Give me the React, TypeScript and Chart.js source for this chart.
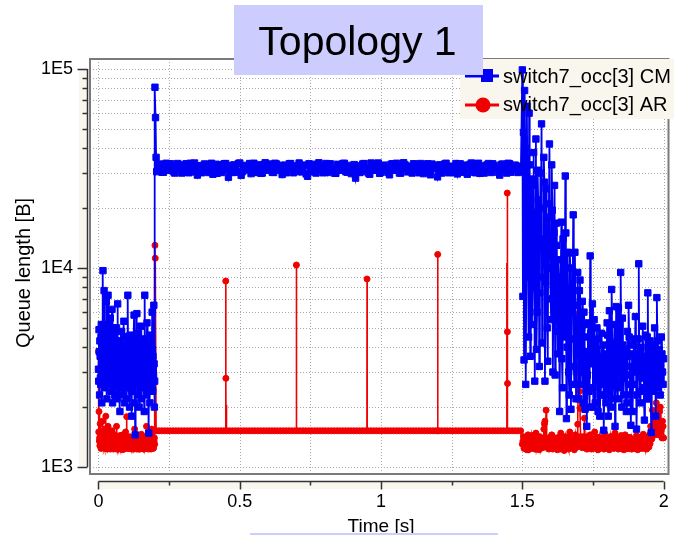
import { useEffect, useRef } from 'react';
import { Chart, registerables } from 'chart.js';
Chart.register(...registerables);

const W = 674;
const H = 535;
const FONT = '"Liberation Sans", Arial, Helvetica, sans-serif';
const BLUE = '#0000f5';
const RED = '#f00000';
const GRID = '#a8a8a8';
const LEGEND_BG = '#f9f6ee';
const TITLE_BG = '#ccccff';

const TITLE = 'Topology 1';
const X_TITLE = 'Time [s]';
const Y_TITLE = 'Queue length [B]';
const SERIES_NAMES = ['switch7_occ[3] CM', 'switch7_occ[3] AR'];

const X_TICKS = [0, 0.25, 0.5, 0.75, 1, 1.25, 1.5, 1.75, 2];
const X_TICK_LABELS = ['0', '', '0.5', '', '1', '', '1.5', '', '2'];
const Y_TICKS = [
  1000, 2000, 3000, 4000, 5000, 6000, 7000, 8000, 9000,
  10000, 20000, 30000, 40000, 50000, 60000, 70000, 80000, 90000, 100000,
];
const Y_TICK_LABELS = ['1E3', '', '', '', '', '', '', '', '', '1E4', '', '', '', '', '', '', '', '', '1E5'];

const X_MIN = -0.0299;
const X_MAX = 2.0172;
const Y_MIN = 922;
const Y_MAX = 112300;

// ---------- CM series (blue) ----------
// samples at 0.000, 0.002, ... 0.198
const cmLeftA = [
  3100, 4900, 2300, 3600, 2600, 5200, 2100, 3400, 9700, 3000,
  7700, 2500, 4100, 2900, 6800, 2200, 3700, 7300, 2600, 4400,
  3000, 5600, 2400, 3300, 6200, 2100, 3900, 2700, 4700, 2300,
  3500, 2800, 5000, 2200, 6600, 3100, 2500, 4300, 1900, 3600,
  2700, 4800, 2300, 3900, 3000, 5400, 2100, 3200, 2600, 4500,
  2200, 3700, 7300, 2500, 3400, 2000, 4600, 2800, 3500, 1800,
  4200, 2400, 3100, 5800, 2100, 1450, 3800, 2600, 5900, 2300,
  3300, 4700, 2000, 3600, 2700, 5100, 2200, 4000, 3000, 2500,
  4400, 1900, 7300, 2800, 3500, 2300, 5300, 2600, 3200, 1480,
  3900, 2100, 4600, 2700, 3400, 6000, 2400, 3100, 6500, 2000,
];
// samples at 0.001, 0.003, ... 0.199
const cmLeftB = [
  2700, 3800, 4300, 2800, 4500, 3300, 3000, 4100, 3800, 5200,
  3300, 4400, 2700, 5100, 3200, 4000, 2800, 3600, 5200, 3000,
  4300, 2900, 3800, 4600, 2700, 3500, 3000, 5000, 2600, 3900,
  3100, 4300, 2700, 3800, 3200, 4200, 3400, 2900, 4100, 2600,
  4000, 3100, 3500, 2600, 4500, 2900, 3700, 2500, 3800, 3000,
  4100, 2800, 3300, 4200, 2600, 3900, 3200, 4300, 2400, 3600,
  3000, 3800, 4400, 2700, 3600, 3100, 2900, 4000, 3400, 3800,
  2800, 3500, 4300, 2600, 4100, 3000, 3600, 2800, 4200, 3300,
  2900, 4000, 3500, 2500, 4100, 3800, 2900, 4200, 2600, 3100,
  2800, 4300, 3200, 3700, 2500, 3900, 3600, 2900, 3300, 2700,
];
const cmJumpTimes = [0.2, 0.202, 0.204, 0.206];
const cmJumpValues = [81000, 57000, 36000, 30500];

// samples at 0.21, 0.22, ... 1.49
const cmPlateauA = [
  31500, 33300, 30300, 33600, 31000, 32900, 30000, 33500, 31800, 30400,
  33400, 30100, 31700, 33700, 29300, 32700, 31100, 33200, 30200, 33600,
  31200, 29900, 33100, 31400, 33500, 28600, 31900, 33000, 30300, 33700,
  30500, 32800, 31600, 29800, 33600, 31300, 32500, 30000, 33800, 31500,
  32600, 30200, 33300, 31000, 29500, 32900, 31700, 33500, 30100, 31900,
  33700, 30400, 32700, 28900, 31500, 33200, 30000, 33800, 31200, 32500,
  30200, 33400, 31400, 29900, 33000, 31000, 33600, 30300, 32800, 31700,
  28300, 32600, 30500, 33500, 31300, 29600, 33100, 31100, 33700, 30300,
  32900, 31800, 29400, 33400, 31000, 32700, 30000, 33800, 31600, 32500,
  30000, 33200, 31200, 33500, 29800, 32800, 30400, 33300, 31500, 28700,
  33000, 31100, 33600, 30100, 32500, 31700, 29700, 33400, 31300, 32900,
  30300, 33700, 31000, 33100, 29900, 32600, 31400, 33500, 30200, 32800,
  31800, 29300, 33300, 31200, 33600, 30300, 32700, 31500, 30500,
];
// samples at 0.215, 0.225, ... 1.495
const cmPlateauB = [
  31900, 30300, 33000, 31300, 33400, 30500, 31800, 33100, 30000, 32700,
  31500, 33600, 30400, 32500, 31600, 30100, 33300, 31200, 32800, 29600,
  33200, 31400, 30200, 33400, 31100, 32800, 30200, 31700, 33500, 29200,
  32500, 31100, 33500, 31700, 30200, 33000, 29900, 33100, 31000, 33300,
  30300, 33600, 31400, 32800, 31900, 30100, 33400, 31200, 32600, 30500,
  31600, 32900, 29700, 33400, 30400, 31300, 33100, 31500, 30100, 33500,
  32700, 31100, 30000, 33200, 31800, 33500, 30500, 31900, 29800, 33100,
  31500, 30200, 33300, 31700, 30000, 33700, 31000, 32900, 29900, 32500,
  31200, 30200, 33200, 31400, 33600, 30000, 31900, 33000, 30400, 31300,
  33400, 31500, 30100, 32700, 31600, 33400, 29400, 31800, 32900, 31000,
  30000, 33300, 31600, 31900, 30200, 33500, 32700, 30300, 31800, 29600,
  33200, 31300, 30100, 33600, 31800, 30000, 33000, 31100, 33400, 31600,
  30300, 33100, 31100, 30000, 33400, 31500, 32900, 30200, 32500,
];

// samples at 1.500, 1.504, ... 2.000
const cmRightA = [
  99000, 48000, 78000, 2600, 65000, 12000, 60000, 3600, 28000, 8000,
  38000, 2700, 44500, 6000, 22000, 3200, 30000, 53000, 9000, 36000,
  2700, 25000, 5000, 18000, 42000, 7000, 33000, 3000, 15000, 2900,
  16800, 6000, 11000, 1900, 9000, 3500, 14000, 4500, 29000, 1750,
  12000, 3000, 11900, 1950, 8000, 18500, 2600, 6500, 3800, 9500,
  2200, 8700, 3000, 6800, 2100, 5200, 2800, 1600, 4500, 2400,
  11500, 3300, 6600, 2000, 4200, 2700, 5000, 1900, 3600, 2300,
  4700, 2900, 1530, 3400, 2100, 5300, 1800, 6100, 2600, 7800,
  2200, 3900, 1600, 6400, 2500, 6300, 3100, 9500, 2000, 4100,
  2800, 3600, 1900, 4800, 6500, 2300, 1620, 3700, 2600, 4400,
  5700, 1550, 3300, 10500, 2400, 4000, 2800, 3500, 1720, 4600,
  2200, 7500, 3000, 4300, 1490, 3800, 2500, 5000, 1800, 7100,
  2700, 3900, 2300, 4500, 3000, 3500,
];
// samples at 1.502, 1.506, ... 1.998
const cmRightB = [
  7200, 3450, 40000, 9000, 25000, 4500, 33000, 15000, 5200, 26000,
  11000, 19000, 3900, 31000, 12500, 7500, 20000, 4200, 14000, 27000,
  8500, 16000, 3400, 21000, 10000, 5500, 19500, 8200, 26000, 4800,
  13000, 3700, 8800, 5400, 17000, 2500, 9800, 6000, 15000, 4000,
  7200, 2300, 10000, 4400, 6800, 3200, 12000, 2200, 5600, 4100,
  7700, 2600, 5000, 3300, 6000, 1950, 3800, 2900, 5300, 2000,
  4700, 3600, 2500, 5500, 2100, 3900, 3000, 4400, 1800, 3500,
  2600, 4100, 2300, 3700, 2900, 4600, 2400, 3300, 2000, 4200,
  3000, 5200, 2700, 3500, 2200, 4000, 2600, 3400, 5600, 2300,
  3900, 2900, 2100, 3600, 4500, 2600, 3200, 1900, 4100, 3000,
  3700, 2300, 4400, 3100, 2100, 3600, 5100, 2500, 3300, 2800,
  4500, 2200, 3600, 2600, 4100, 3100, 2400, 3900, 2900, 4300,
  2500, 3300, 2800, 3700, 2600,
];

// ---------- AR series (red) ----------
// samples at 0.000, 0.002, ... 0.198
const arLeftA = [
  3800, 1900, 1400, 1650, 1300, 1500, 1250, 1700, 1350, 1450,
  1280, 1550, 1320, 1800, 1240, 1420, 1300, 1600, 1260, 1380,
  1480, 1230, 1350, 1280, 1520, 1250, 1400, 1310, 1270, 1450,
  1240, 1330, 1600, 1260, 1300, 1230, 1420, 1280, 1350, 1250,
  1380, 1270, 1220, 1450, 1300, 1260, 1340, 1240, 1500, 1290,
  1790, 1250, 1360, 1280, 1240, 1420, 1300, 1260, 1330, 1230,
  1400, 1270, 1310, 1250, 1550, 1240, 1350, 1280, 1230, 1440,
  1290, 1250, 1380, 1230, 1330, 1270, 1460, 1240, 1300, 1260,
  1350, 1230, 1420, 1280, 1250, 1600, 1240, 1310, 1270, 1480,
  1250, 1380, 1290, 1230, 1550, 1260, 1330, 1240, 1290, 1400,
];
// samples at 0.001, 0.003, ... 0.199
const arLeftB = [
  1500, 1350, 1280, 1420, 1240, 1380, 1300, 1260, 1430, 1250,
  1330, 1240, 1400, 1270, 1350, 1230, 1460, 1280, 1320, 1240,
  1300, 1390, 1250, 1410, 1270, 1340, 1230, 1380, 1290, 1250,
  1360, 1270, 1240, 1410, 1230, 1350, 1290, 1250, 1440, 1300,
  1250, 1350, 1300, 1240, 1390, 1230, 1280, 1420, 1260, 1330,
  1270, 1410, 1240, 1320, 1370, 1250, 1300, 1400, 1240, 1350,
  1260, 1340, 1230, 1420, 1290, 1260, 1380, 1240, 1330, 1270,
  1350, 1230, 1300, 1400, 1250, 1320, 1240, 1370, 1280, 1230,
  1290, 1400, 1250, 1330, 1360, 1240, 1270, 1420, 1230, 1300,
  1380, 1240, 1310, 1450, 1260, 1320, 1400, 1250, 1350, 1300,
];
const arJumpTimes = [0.2, 0.201];
const arJumpValues = [13000, 11200];

// flat level read between 0.204 s and 1.494 s, sampled every 0.01 s
const AR_FLAT_LEVEL = 1520;
const AR_FLAT_START = 0.204;
const AR_FLAT_STEP = 0.01;
const AR_FLAT_COUNT = 130;

const arSpikeTimes = [
  0.45, 0.4505, 0.451, 0.4515, 0.4525, 0.453,
  0.7, 0.7005, 0.701,
  0.95, 0.9505, 0.951,
  1.2, 1.2005, 1.201,
  1.445, 1.4455, 1.446, 1.4465, 1.447, 1.4475, 1.448,
];
const arSpikeValues = [
  1520, 8600, 2790, 1520, 2050, 1520,
  1520, 10350, 1520,
  1520, 8800, 1520,
  1520, 11700, 1520,
  1520, 10600, 1520, 23800, 4780, 2630, 1520,
];
const arSpikeMarked = [
  0, 1, 1, 0, 0, 0,
  0, 1, 0,
  0, 1, 0,
  0, 1, 1,
  0, 0, 0, 1, 1, 1, 0,
];

// samples at 1.500, 1.504, ... 2.000
const arRightA = [
  1300, 1420, 1250, 1380, 1220, 1450, 1280, 1350, 1240, 1400,
  1300, 1230, 1480, 1270, 1350, 1220, 1400, 1290, 1250, 1550,
  1700, 1930, 1300, 1240, 1380, 1260, 1450, 1230, 1330, 1280,
  1400, 1220, 1350, 1270, 1480, 1240, 1300, 1210, 1420, 1260,
  1330, 1230, 1500, 1280, 1250, 1380, 1220, 1450, 1300, 1640,
  5900, 1970, 1350, 1250, 1420, 1760, 1280, 1230, 1380, 1270,
  1450, 1230, 1320, 1260, 1500, 1240, 1350, 1220, 1410, 1280,
  1250, 1380, 1230, 1470, 1300, 1260, 1340, 1220, 1420, 1270,
  1310, 1240, 1480, 1260, 1350, 1230, 1400, 1290, 1250, 1370,
  1220, 1450, 1280, 1330, 1240, 1410, 1270, 1230, 1360, 1300,
  1250, 1440, 1220, 1380, 1270, 1320, 1240, 1460, 1280, 1350,
  1230, 1400, 1260, 1310, 1500, 1930, 1450, 1700, 2500, 1600,
  1800, 1450, 2000, 1550, 1700, 1400,
];
// samples at 1.502, 1.506, ... 1.998
const arRightB = [
  1350, 1240, 1400, 1280, 1330, 1220, 1380, 1260, 1440, 1300,
  1250, 1390, 1230, 1330, 1270, 1420, 1250, 1320, 1380, 1650,
  1400, 1270, 1350, 1230, 1410, 1280, 1330, 1240, 1390, 1260,
  1300, 1250, 1410, 1230, 1340, 1290, 1260, 1380, 1240, 1330,
  1270, 1420, 1250, 1310, 1360, 1240, 1300, 1390, 1260, 3200,
  2400, 1420, 1290, 1350, 1260, 1380, 1300, 1420, 1240, 1340,
  1280, 1380, 1240, 1330, 1270, 1410, 1230, 1350, 1260, 1320,
  1400, 1250, 1310, 1240, 1380, 1290, 1230, 1360, 1270, 1420,
  1250, 1330, 1270, 1390, 1240, 1310, 1280, 1440, 1230, 1300,
  1350, 1260, 1400, 1240, 1300, 1270, 1380, 1250, 1320, 1240,
  1370, 1280, 1330, 1240, 1410, 1260, 1300, 1350, 1240, 1380,
  1280, 1360, 1450, 1600, 1380, 1550, 1800, 1450, 2100, 1500,
  1650, 1900, 1550, 1400, 1600,
];

type Pt = { x: number; y: number; hide?: boolean };

function sampled(start: number, step: number, values: number[]): Pt[] {
  return values.map((v, i) => ({ x: +(start + i * step).toFixed(4), y: v }));
}
function paired(times: number[], values: number[]): Pt[] {
  return times.map((t, i) => ({ x: t, y: values[i] }));
}

function buildCM(): Pt[] {
  return [
    ...sampled(0, 0.002, cmLeftA),
    ...sampled(0.001, 0.002, cmLeftB),
    ...paired(cmJumpTimes, cmJumpValues),
    ...sampled(0.21, 0.01, cmPlateauA),
    ...sampled(0.215, 0.01, cmPlateauB),
    ...sampled(1.5, 0.004, cmRightA),
    ...sampled(1.502, 0.004, cmRightB),
  ].sort((a, b) => a.x - b.x);
}

function buildAR(): Pt[] {
  const flat: Pt[] = [];
  for (let i = 0; i < AR_FLAT_COUNT; i++) {
    flat.push({ x: +(AR_FLAT_START + i * AR_FLAT_STEP).toFixed(4), y: AR_FLAT_LEVEL });
  }
  const spikes: Pt[] = arSpikeTimes.map((t, i) => ({ x: t, y: arSpikeValues[i], hide: !arSpikeMarked[i] }));
  return [
    ...sampled(0, 0.002, arLeftA),
    ...sampled(0.001, 0.002, arLeftB),
    ...paired(arJumpTimes, arJumpValues),
    ...flat,
    ...spikes,
    ...sampled(1.5, 0.004, arRightA),
    ...sampled(1.502, 0.004, arRightB),
  ].sort((a, b) => a.x - b.x);
}

const decorPlugin = {
  id: 'decor',
  beforeDatasetsDraw(chart: any) {
    const { ctx, chartArea: a, scales } = chart;
    const xs = scales.x;
    const ys = scales.y;
    ctx.save();
    ctx.beginPath();
    ctx.rect(a.left, a.top, a.right - a.left, a.bottom - a.top);
    ctx.clip();
    ctx.strokeStyle = GRID;
    ctx.lineWidth = 1;
    ctx.setLineDash([1, 2]);
    for (const v of X_TICKS) {
      const px = Math.round(xs.getPixelForValue(v)) + 0.5;
      ctx.beginPath();
      ctx.moveTo(px, a.top);
      ctx.lineTo(px, a.bottom);
      ctx.stroke();
    }
    for (const v of Y_TICKS) {
      const py = Math.round(ys.getPixelForValue(v)) + 0.5;
      ctx.beginPath();
      ctx.moveTo(a.left, py);
      ctx.lineTo(a.right, py);
      ctx.stroke();
    }
    ctx.restore();

    ctx.save();
    ctx.strokeStyle = '#7a7a7a';
    ctx.lineWidth = 2;
    ctx.strokeRect(a.left, a.top, a.right - a.left, a.bottom - a.top);
    ctx.fillStyle = LEGEND_BG;
    ctx.fillRect(460, 59, W - 460, 60);
    ctx.restore();
  },
  afterDatasetsDraw(chart: any) {
    const { ctx, scales } = chart;
    const xs = scales.x;
    const ys = scales.y;
    ctx.save();

    // legend
    ctx.strokeStyle = BLUE;
    ctx.lineWidth = 3;
    ctx.beginPath();
    ctx.moveTo(465, 76);
    ctx.lineTo(499, 76);
    ctx.stroke();
    ctx.fillStyle = BLUE;
    ctx.fillRect(481, 69, 12, 13);
    ctx.strokeStyle = RED;
    ctx.beginPath();
    ctx.moveTo(465, 105);
    ctx.lineTo(499, 105);
    ctx.stroke();
    ctx.fillStyle = RED;
    ctx.beginPath();
    ctx.arc(483, 105, 7.5, 0, Math.PI * 2);
    ctx.fill();
    ctx.fillStyle = '#000';
    ctx.font = `20px ${FONT}`;
    ctx.textAlign = 'left';
    ctx.textBaseline = 'alphabetic';
    ctx.fillText(SERIES_NAMES[0], 503, 83);
    ctx.fillText(SERIES_NAMES[1], 503, 111);

    // y axis
    const yTop = ys.getPixelForValue(Y_TICKS[Y_TICKS.length - 1]);
    const yBot = ys.getPixelForValue(Y_TICKS[0]);
    ctx.fillStyle = LEGEND_BG;
    ctx.fillRect(79, yTop, 8, yBot - yTop);
    ctx.strokeStyle = '#333';
    ctx.lineWidth = 1.5;
    ctx.beginPath();
    ctx.moveTo(87.5, yTop);
    ctx.lineTo(87.5, yBot);
    ctx.stroke();
    Y_TICKS.forEach((v, i) => {
      const py = Math.round(ys.getPixelForValue(v)) + 0.5;
      const len = Y_TICK_LABELS[i] ? 10 : 5;
      ctx.beginPath();
      ctx.moveTo(87.5 - len, py);
      ctx.lineTo(87.5, py);
      ctx.stroke();
    });

    // x axis
    const x0 = xs.getPixelForValue(X_TICKS[0]);
    const x1 = xs.getPixelForValue(X_TICKS[X_TICKS.length - 1]);
    ctx.fillStyle = LEGEND_BG;
    ctx.fillRect(x0, 481, x1 - x0, 8);
    ctx.beginPath();
    ctx.moveTo(x0, 481.5);
    ctx.lineTo(x1, 481.5);
    ctx.stroke();
    X_TICKS.forEach((v, i) => {
      const px = Math.round(xs.getPixelForValue(v)) + 0.5;
      const len = X_TICK_LABELS[i] ? 8 : 4;
      ctx.beginPath();
      ctx.moveTo(px, 481.5);
      ctx.lineTo(px, 481.5 + len);
      ctx.stroke();
    });

    // axis titles
    ctx.fillStyle = '#000';
    ctx.font = `19px ${FONT}`;
    ctx.textAlign = 'center';
    ctx.fillText(X_TITLE, (x0 + x1) / 2, 532);
    ctx.save();
    ctx.translate(30, 273);
    ctx.rotate(-Math.PI / 2);
    ctx.font = `20px ${FONT}`;
    ctx.fillText(Y_TITLE, 0, 0);
    ctx.restore();

    // title box
    ctx.fillStyle = TITLE_BG;
    ctx.fillRect(234, 5, 249, 70);
    ctx.fillStyle = '#000';
    ctx.font = `41px ${FONT}`;
    ctx.textAlign = 'center';
    ctx.fillText(TITLE, 357.5, 55);

    // bottom box edge
    ctx.fillStyle = TITLE_BG;
    ctx.fillRect(250, 533, 248, 2);
    ctx.restore();
  },
};

export default function App() {
  const ref = useRef<HTMLCanvasElement>(null);
  useEffect(() => {
    const canvas = ref.current;
    if (!canvas) return;
    const chart = new Chart(canvas, {
      type: 'line',
      data: {
        datasets: [
          {
            label: SERIES_NAMES[0],
            data: buildCM() as any,
            borderColor: BLUE,
            backgroundColor: BLUE,
            borderWidth: 1.8,
            pointStyle: 'rect',
            pointRadius: 4.5,
            pointBorderWidth: 1,
            pointBorderColor: BLUE,
            pointBackgroundColor: BLUE,
            tension: 0,
            fill: false,
          },
          {
            label: SERIES_NAMES[1],
            data: buildAR() as any,
            borderColor: RED,
            backgroundColor: RED,
            borderWidth: 1.6,
            pointStyle: 'circle',
            pointRadius: (c: any) => (c.raw && c.raw.hide ? 0 : 3),
            pointBorderWidth: 1,
            pointBorderColor: RED,
            pointBackgroundColor: RED,
            tension: 0,
            fill: false,
          },
        ],
      },
      options: {
        animation: false,
        responsive: false,
        devicePixelRatio: 1,
        events: [],
        layout: { padding: { left: 0, right: 2, top: 59, bottom: 0 } },
        plugins: {
          legend: { display: false },
          title: { display: false },
          tooltip: { enabled: false },
        },
        scales: {
          x: {
            type: 'linear',
            min: X_MIN,
            max: X_MAX,
            afterBuildTicks: (s: any) => {
              s.ticks = X_TICKS.map((v) => ({ value: v }));
            },
            afterFit: (s: any) => {
              s.height = 61;
              s.paddingLeft = 0;
              s.paddingRight = 0;
            },
            ticks: {
              autoSkip: false,
              maxRotation: 0,
              minRotation: 0,
              padding: 17,
              color: '#000',
              font: { family: FONT, size: 18 },
              callback: (_v: any, i: number) => X_TICK_LABELS[i],
            },
            grid: { display: false, drawTicks: false },
            border: { display: false },
          },
          y: {
            type: 'logarithmic',
            min: Y_MIN,
            max: Y_MAX,
            afterBuildTicks: (s: any) => {
              s.ticks = Y_TICKS.map((v) => ({ value: v }));
            },
            afterFit: (s: any) => {
              s.width = 90;
              s.paddingTop = 0;
              s.paddingBottom = 0;
            },
            ticks: {
              autoSkip: false,
              padding: 17,
              color: '#000',
              font: { family: FONT, size: 18 },
              callback: (_v: any, i: number) => Y_TICK_LABELS[i],
            },
            grid: { display: false, drawTicks: false },
            border: { display: false },
          },
        },
      },
      plugins: [decorPlugin],
    } as any);
    return () => chart.destroy();
  }, []);
  return (
    <div style={{ position: 'fixed', left: 0, top: 0, width: W, height: H, background: '#fff' }}>
      <canvas ref={ref} width={W} height={H} style={{ display: 'block', width: W, height: H }} />
    </div>
  );
}
